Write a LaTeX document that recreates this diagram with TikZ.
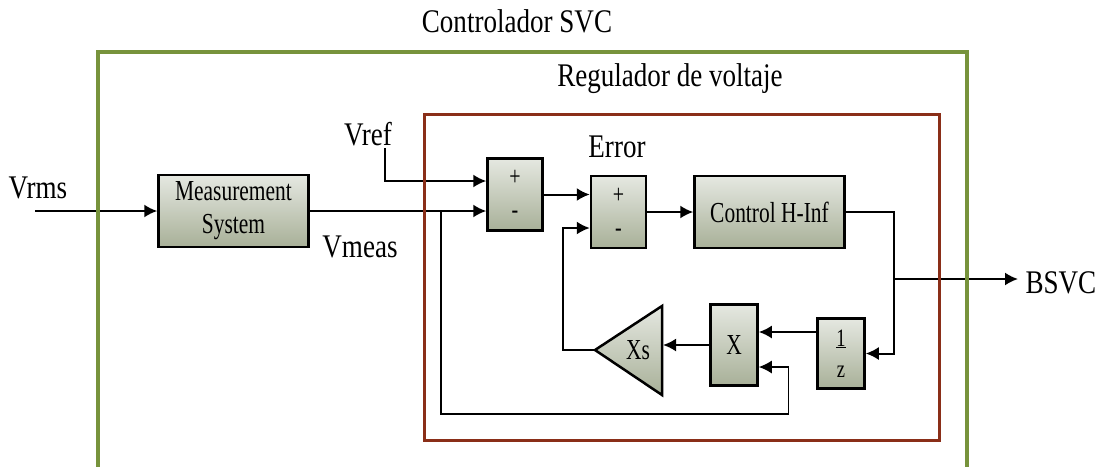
\documentclass[tikz,border=0pt]{standalone}
\usepackage{fontspec}
\setmainfont{Liberation Serif}[FakeStretch=0.82]
\newfontfamily\boxfont{Liberation Serif}[FakeStretch=0.74]
\usetikzlibrary{arrows.meta,calc}
\usepackage{xcolor}
\definecolor{svcgreen}{RGB}{119,147,60}
\definecolor{regred}{RGB}{138,46,24}
\definecolor{boxtop}{RGB}{229,232,225}
\definecolor{boxbot}{RGB}{168,176,152}

\begin{document}
\begin{tikzpicture}[
    x=1pt, y=-1pt,
    bigfont/.style={font=\fontsize{33}{36}\selectfont},
    blockbox/.style={rectangle, draw=black, line width=2.5pt, top color=boxtop, bottom color=boxbot, align=center, inner sep=0pt, font=\boxfont\fontsize{29}{33}\selectfont},
    sumbox/.style={blockbox, minimum width=55pt, minimum height=72pt, font=\boxfont\fontsize{27}{33}\selectfont},
    sig/.style={line width=2pt, -{Latex[length=13pt,width=13pt]}}
]
\useasboundingbox (0,0) rectangle (1097,466);

% blocks
\node[blockbox, minimum width=150pt, minimum height=72pt] (meas) at (233.5,211) {Measurement\\System};
\node[sumbox] (sum1) at (515,194.5) {+\\-};
\node[sumbox] (sum2) at (618.5,212) {+\\-};
\node[blockbox, minimum width=150pt, minimum height=72pt] (ctrl) at (769.5,212) {Control H-Inf};
\node[blockbox, minimum width=47pt, minimum height=81pt, font=\boxfont\fontsize{29}{30}\selectfont] (xmul) at (734,345) {X};
\node[blockbox, minimum width=47pt, minimum height=70pt, font=\boxfont\fontsize{25}{31}\selectfont] (inv) at (841,353.5) {\underline{1}\\z};
\draw[line width=2.5pt, top color=boxtop, bottom color=boxbot] (595,350) coordinate (gtip) -- (662,306) -- (662,395) -- cycle;
\node[font=\boxfont\fontsize{29}{30}\selectfont] (gain) at (638,350) {Xs};
\coordinate (gin) at (663,345);

% labels
\node[bigfont, anchor=base] (ctrllbl) at (517,32) {Controlador SVC};
\node[bigfont, anchor=base] (reglbl) at (670,86) {Regulador de voltaje};
\node[bigfont, anchor=base] (vrms) at (38,198) {Vrms};
\node[bigfont, anchor=base] (vref) at (368,145) {Vref};
\node[bigfont, anchor=base] (vmeas) at (360,257) {Vmeas};
\node[bigfont, anchor=base] (err) at (617,157) {Error};
\node[bigfont, anchor=base west] (bsvc) at (1022,293) {BSVC};

\coordinate (vrmsin) at (35,211);
\coordinate (vrefin) at (385,148);
\coordinate (tap) at (441,211);
\coordinate (branch) at (894,279);
\coordinate (bsvcout) at (1018,279);

% signals
\draw[sig] (vrmsin) -- (meas.west);
\draw[sig] (meas.east) -- (meas.east -| sum1.west);
\draw[sig] (vrefin) |- ($(sum1.west)+(0,-13.5)$);
\draw[sig] (sum1.east) -- (sum1.east -| sum2.west);
\draw[sig] (sum2.east) -- (ctrl.west);
\draw[sig] (ctrl.east) -| (branch) |- (inv.east);
\draw[sig] (branch) -- (bsvcout);
\draw[sig] ($(inv.west)+(0,-21.5)$) coordinate (invout) -- (invout -| xmul.east);
\draw[sig] (xmul.west) -- (gin);
\draw[sig] (gtip) -- ++(-32,0) |- ($(sum2.west)+(0,16)$);
\draw[sig, line width=1.5pt] (tap) |- ($(xmul.east)+(29.5,69)$) |- ($(xmul.east)+(0,22)$);

% frames
\draw[regred, line width=3pt] (424,114) rectangle (939,440);
\draw[svcgreen, line width=4pt] (98,51.5) rectangle (967,480);
\end{tikzpicture}
\end{document}
